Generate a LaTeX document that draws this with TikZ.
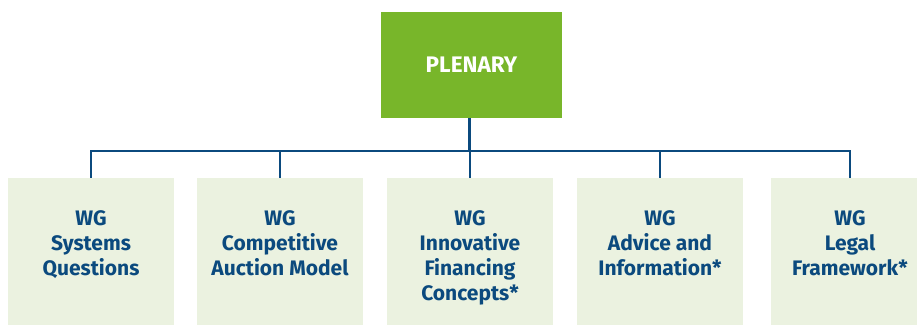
\documentclass[tikz,border=0pt]{standalone}
\usepackage{fontspec}
\setmainfont{Fira Sans}
\usetikzlibrary{positioning}

\definecolor{plenarygreen}{HTML}{78B62A}
\definecolor{wgfill}{HTML}{EBF2E0}
\definecolor{wgblue}{HTML}{0B4A7E}

\begin{document}
\begin{tikzpicture}[x=1pt, y=-1pt,
  box/.style={fill=wgfill, inner sep=0pt, minimum width=166pt, minimum height=147pt},
  wgtext/.style={align=center, inner sep=0pt, text=wgblue, font=\fontsize{21}{25}\selectfont\bfseries},
  link/.style={draw=wgblue, line width=2.2pt}]
\useasboundingbox (0,0) rectangle (917,325);
\node[fill=plenarygreen, minimum width=181pt, minimum height=106pt, inner sep=0pt, text=white, font=\fontsize{22.5}{25}\selectfont\bfseries] (plenary) at (471.5, 65) {PLENARY};
\node[box] (b1) at (91, 251.5) {};
\node[box] (b2) at (280, 251.5) {};
\node[box] (b3) at (470, 251.5) {};
\node[box] (b4) at (660, 251.5) {};
\node[box, minimum width=146pt] (b5) at (844, 251.5) {};
\node[wgtext, below=33pt of b1.north] (t1) {WG\\Systems\\Questions};
\node[wgtext, below=33pt of b2.north] (t2) {WG\\Competitive\\Auction Model};
\node[wgtext, below=33pt of b3.north] (t3) {WG\\Innovative\\Financing\\Concepts*};
\node[wgtext, below=33pt of b4.north] (t4) {WG\\Advice and\\Information*};
\node[wgtext, below=33pt of b5.north, xshift=6pt] (t5) {WG\\Legal\\Framework*};
\coordinate (bus) at (469.5, 151);
% connectors
\draw[link] (plenary.south -| bus) -- (bus);
\draw[link] (t1 |- b1.north) |- (bus) -| (t5 |- b5.north);
\draw[link] (t2 |- b2.north) -- (t2 |- bus);
\draw[link] (t3 |- b3.north) -- (t3 |- bus);
\draw[link] (t4 |- b4.north) -- (t4 |- bus);
\end{tikzpicture}
\end{document}
